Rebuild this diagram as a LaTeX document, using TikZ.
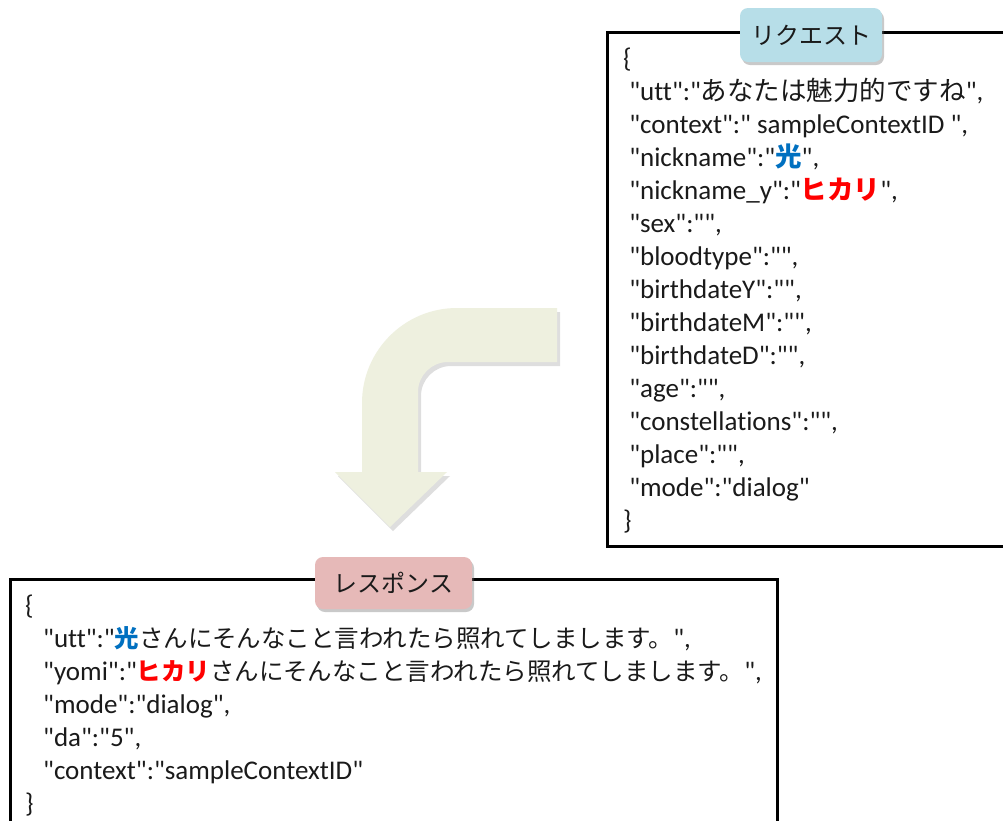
\documentclass[tikz,border=0pt]{standalone}
\usepackage{fontspec}
\setmainfont{Carlito}[Ligatures={TeXOff,CommonOff}]
\newfontfamily\jp{Noto Sans CJK JP}[Ligatures=TeXOff]
\usetikzlibrary{shadows}
\definecolor{txt}{HTML}{1A1A1A}
\definecolor{hiblue}{HTML}{0070C0}
\definecolor{hired}{HTML}{FF0000}
\definecolor{reqlab}{HTML}{B7DEE8}
\definecolor{reslab}{HTML}{E6B9B8}
\definecolor{arrowfill}{HTML}{EEF0DF}
\newcommand{\bl}[1]{{\jp\bfseries\color{hiblue}#1}}
\newcommand{\rd}[1]{{\jp\bfseries\color{hired}#1}}
\newcommand{\jreq}{\jp\fontsize{26.5}{30}\selectfont}
\newcommand{\jres}{\jp\fontsize{24.5}{30}\selectfont}
\tikzset{
  codeline/.style={anchor=base west, inner sep=0pt, text=txt, font=\fontsize{27}{30}\selectfont},
  jsonbox/.style={draw=black, line width=3pt},
  tag/.style={rounded corners=8pt, inner sep=0pt, text=txt,
    font=\jp\fontsize{24}{28}\selectfont,
    drop shadow={shadow xshift=2pt, shadow yshift=-3pt, opacity=0.35, fill=black!60}},
}
\begin{document}
\begin{tikzpicture}[x=1pt,y=-1pt]
\useasboundingbox (0,0) rectangle (1003,820);
\clip (0,0) rectangle (1003,820);
\fill[white] (0,0) rectangle (1003,820);

% curved arrow (shadow + body)
\fill[black, opacity=0.13, shift={(3,4)}] (557,308) [rounded corners=95pt] -- (362,308) [sharp corners] -- (362,472) -- (335,472) -- (390,527) -- (447,472) -- (418,472) [rounded corners=30pt] -- (418,362) [sharp corners] -- (557,362) -- cycle;
\fill[arrowfill] (557,308) [rounded corners=95pt] -- (362,308) [sharp corners] -- (362,472) -- (335,472) -- (390,527) -- (447,472) -- (418,472) [rounded corners=30pt] -- (418,362) [sharp corners] -- (557,362) -- cycle;

% request box
\draw[jsonbox] (607,32) rectangle (1030,546);
\foreach \t [count=\i from 0] in {
  {\{},
  {~"utt":"{\jreq あなたは魅力的ですね}",},
  {~"context":" sampleContextID ",},
  {~"nickname":"{\jreq\bl{光}}",},
  {~"nickname\_y":"{\jreq\rd{ヒカリ}}",},
  {~"sex":"",},
  {~"bloodtype":"",},
  {~"birthdateY":"",},
  {~"birthdateM":"",},
  {~"birthdateD":"",},
  {~"age":"",},
  {~"constellations":"",},
  {~"place":"",},
  {~"mode":"dialog"},
  {\}}}
  \node[codeline] (req\i) at (623,67+33*\i) {\t};

\node[tag, fill=reqlab, minimum width=142pt, minimum height=54pt] (reqtag) at (811,35) {リクエスト};

% response box
\draw[jsonbox] (10,579) rectangle (777,850);
\foreach \t [count=\i from 0] in {
  {\{},
  {\hspace{18pt}"utt":"{\jres\bl{光}さんにそんなこと言われたら照れてしまします。}",},
  {\hspace{18pt}"yomi":"{\jres\rd{ヒカリ}さんにそんなこと言われたら照れてしまします。}",},
  {\hspace{18pt}"mode":"dialog",},
  {\hspace{18pt}"da":"5",},
  {\hspace{18pt}"context":"sampleContextID"},
  {\}}}
  \node[codeline] (res\i) at (25,614+33*\i) {\t};

\node[tag, fill=reslab, minimum width=157pt, minimum height=52pt] (restag) at (393.5,583) {レスポンス};
\end{tikzpicture}
\end{document}
